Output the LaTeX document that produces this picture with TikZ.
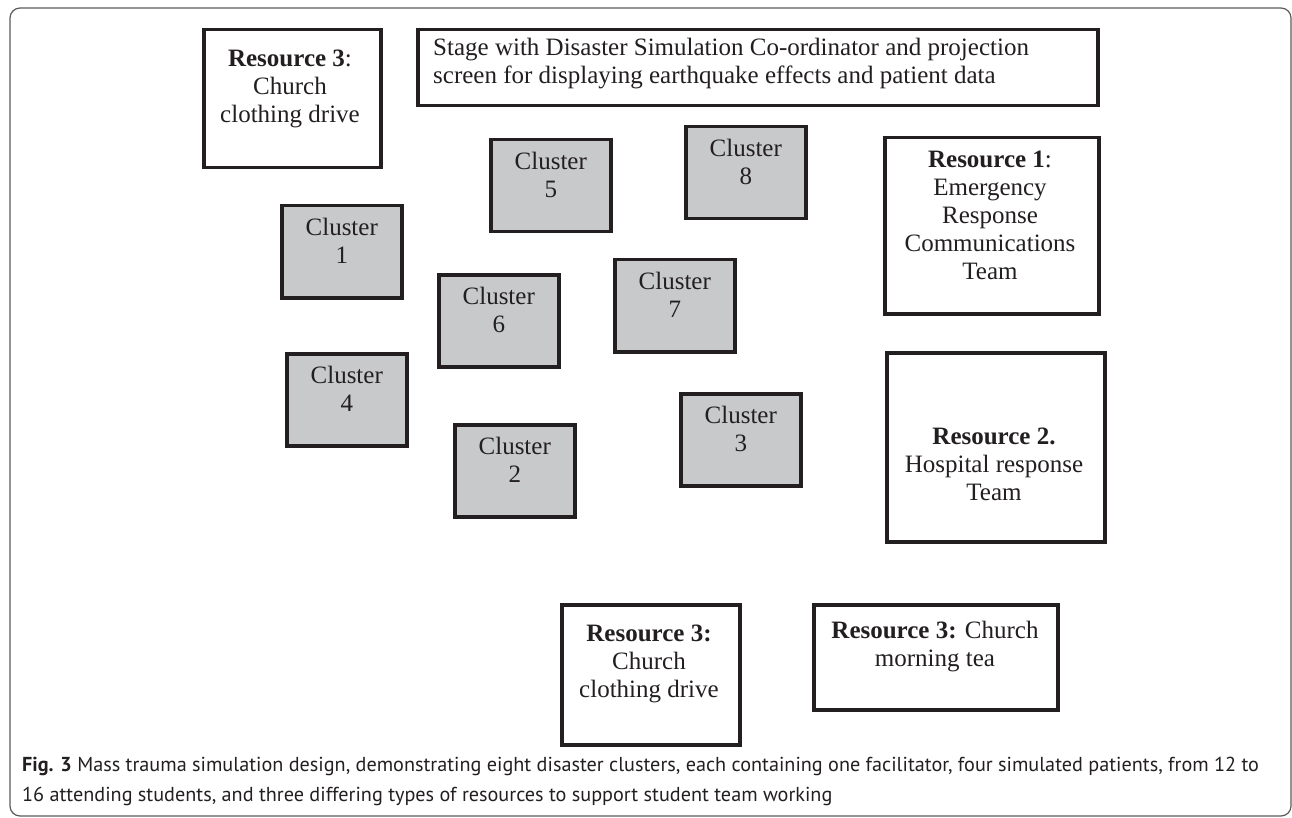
\documentclass[tikz,border=0pt]{standalone}
\usepackage{fontspec}
\setmainfont{Liberation Serif}
\newfontfamily\capfont{PT Sans}
\usetikzlibrary{calc}
\definecolor{ink}{HTML}{231F20}
\definecolor{cfill}{HTML}{C8C9CB}
\definecolor{frame}{HTML}{5A5A5A}
\begin{document}
\begin{tikzpicture}[x=1pt,y=-1pt,
  box/.style={draw=ink, line width=3.5pt, fill=white, inner sep=0pt, anchor=north west},
  cbox/.style={box, fill=cfill, minimum width=120pt, minimum height=92pt},
  txt/.style={text=ink, align=center, font=\fontsize{25}{28}\selectfont, inner sep=0pt},
  captxt/.style={text=ink, font=\capfont\fontsize{20.2}{28}\selectfont, inner sep=0pt, anchor=base west}
]
\useasboundingbox (0,0) rectangle (1292,818);
\draw[frame, line width=1.2pt, rounded corners=10pt] (10,8) rectangle (1291,816);

% resource / stage boxes
\node[box, minimum width=177pt, minimum height=138pt] (r3a) at (202,28) {};
\node[txt] (r3at) at (290,89) {\textbf{Resource 3}:\\Church\\clothing drive};

\node[box, minimum width=680pt, minimum height=76pt] (stage) at (416,28) {};
\node[txt, align=left, anchor=west] (staget) at (433,63.5) {Stage with Disaster Simulation Co-ordinator and projection\\screen for displaying earthquake effects and patient data};

\node[box, minimum width=214pt, minimum height=176pt] (r1) at (883,136) {};
\node[txt] (r1t) at (990,215) {\textbf{Resource 1}:\\Emergency\\Response\\Communications\\Team};

\node[box, minimum width=218pt, minimum height=189pt] (r2) at (885,351) {};
\node[txt] (r2t) at (994,464.5) {\textbf{Resource 2.}\\Hospital response\\Team};

\node[box, minimum width=178pt, minimum height=140pt] (r3b) at (560,603) {};
\node[txt] (r3bt) at (649,663.5) {\textbf{Resource 3:}\\Church\\clothing drive};

\node[box, minimum width=244pt, minimum height=105pt] (r3c) at (812,603) {};
\node[txt] (r3ct) at (935,647) {\textbf{Resource 3:} Church\\morning tea};

% clusters
\newcommand\clusterbox[4]{%
  \node[cbox] (#1) at (#2,#3) {};
  \node[txt] (#1t) at ($(#1.north)+(0,37)$) {Cluster\\#4};
}
\clusterbox{c1}{280}{204}{1}
\clusterbox{c4}{285}{352}{4}
\clusterbox{c6}{437}{273}{6}
\clusterbox{c2}{453}{423}{2}
\clusterbox{c5}{489}{138}{5}
\clusterbox{c8}{684}{125}{8}
\clusterbox{c7}{613}{258}{7}
\clusterbox{c3}{679}{392}{3}

% caption
\node[captxt] (cap1) at (22,771) {\textbf{Fig. 3} Mass trauma simulation design, demonstrating eight disaster clusters, each containing one facilitator, four simulated patients, from 12 to};
\node[captxt] (cap2) at (22,801) {16 attending students, and three differing types of resources to support student team working};
\end{tikzpicture}
\end{document}
